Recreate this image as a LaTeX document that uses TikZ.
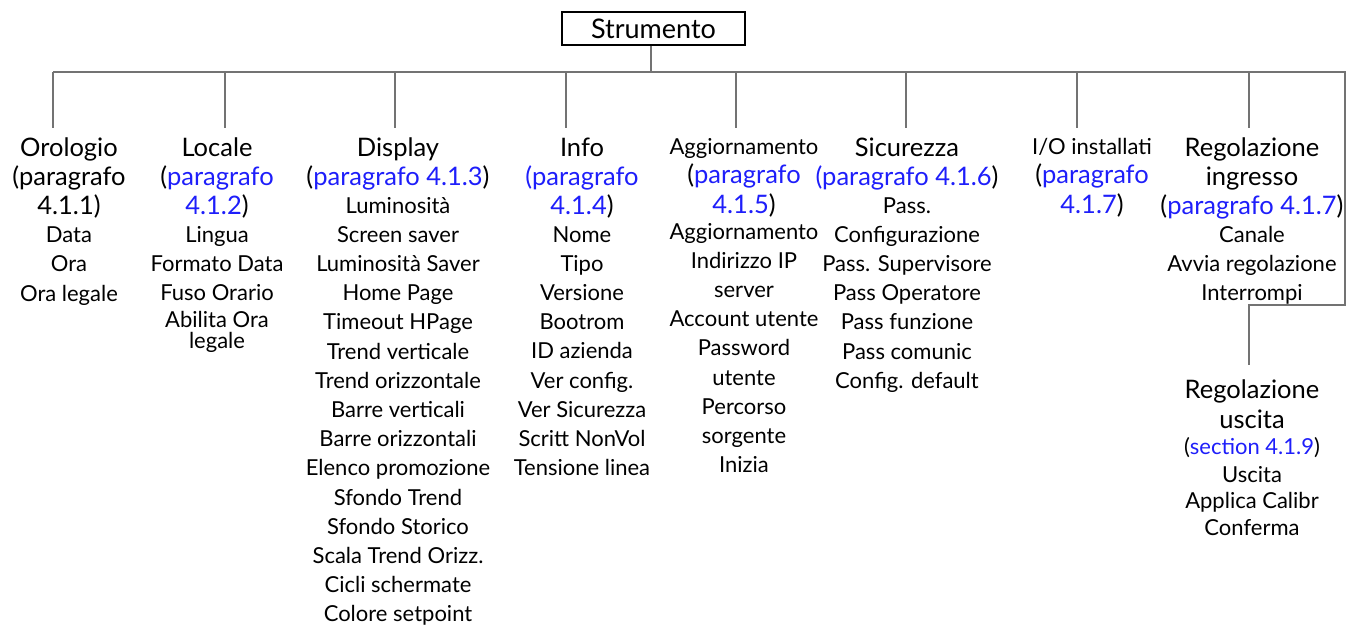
\documentclass[tikz,border=0pt]{standalone}
\usepackage{fontspec}
\setmainfont{Lato}
\usepackage{xcolor}
\usetikzlibrary{positioning}
\definecolor{rifblu}{RGB}{30,30,250}
\definecolor{ramogrigio}{RGB}{115,115,115}
\newcommand{\rif}[1]{\textcolor{rifblu}{#1}}
% nodes with several lines sit on the baseline of their last line
\tikzset{
  radice/.style={draw,line width=1.6pt,minimum width=183pt,minimum height=33pt,inner sep=0pt,font=\fontsize{27}{28}\selectfont},
  titolo/.style={align=center,anchor=base,inner sep=0pt,font=\fontsize{25.5}{29.2}\selectfont},
  titolino/.style={align=center,anchor=base,inner sep=0pt,font=\fontsize{22}{28.6}\selectfont},
  voci/.style={align=center,anchor=base,inner sep=0pt,font=\fontsize{22}{29.2}\selectfont},
  ramo/.style={draw=ramogrigio,line width=1.3pt}
}

\begin{document}
\begin{tikzpicture}[x=1pt,y=-1pt]
\useasboundingbox (0,0) rectangle (1346,624);
\node[radice] (strum) at (653.5,28.5) {Strumento};
% intestazioni
\node[titolo] (oro) at (69,214.4) {Orologio\\(paragrafo\\4.1.1)};
\node[titolo] (loc) at (217,214.4) {Locale\\(\rif{paragrafo}\\\rif{4.1.2})};
\node[titolo] (dis) at (398,185.2) {Display\\(\rif{paragrafo 4.1.3})};
\node[titolo] (inf) at (582,214.4) {Info\\\rif{(paragrafo}\\\rif{4.1.4})};
\node[titolino] (agg) at (744,154) {Aggiornamento};
\node[titolo] (aggR) at (744,213) {(\rif{paragrafo}\\\rif{4.1.5})};
\node[titolo] (sic) at (907,185.2) {Sicurezza\\\rif{(paragrafo 4.1.6})};
\node[titolino] (io) at (1092,154) {I/O installati};
\node[titolo] (ioR) at (1092,213) {(\rif{paragrafo}\\\rif{4.1.7})};
\node[titolo] (reg) at (1252,214.4) {Regolazione\\ingresso\\(\rif{paragrafo 4.1.7})};
\node[titolo] (usc) at (1252,428) {Regolazione\\uscita};
% voci
\node[voci] (oroV) at (69,301) {Data\\Ora\\Ora legale};
\node[voci] (locV) at (217,300.4) {Lingua\\Formato Data\\Fuso Orario};
\node[voci,font=\fontsize{22}{21}\selectfont] (locW) at (217,348) {Abilita Ora\\legale};
\node[voci] (disV) at (398,621.8) {Luminosità\\Screen saver\\Luminosità Saver\\Home Page\\Timeout HPage\\Trend verticale\\Trend orizzontale\\Barre verticali\\Barre orizzontali\\Elenco promozione\\Sfondo Trend\\Sfondo Storico\\Scala Trend Orizz.\\Cicli schermate\\Colore setpoint};
\node[voci] (infV) at (582,475.6) {Nome\\Tipo\\Versione\\Bootrom\\ID azienda\\Ver config.\\Ver Sicurezza\\Scritt NonVol\\Tensione linea};
\node[voci] (aggV) at (744,472.6) {Aggiornamento\\Indirizzo IP\\server\\Account utente\\Password\\utente\\Percorso\\sorgente\\Inizia};
\node[voci] (sicV) at (907,388.2) {Pass.\\Configurazione\\Pass. Supervisore\\Pass Operatore\\Pass funzione\\Pass comunic\\Config. default};
\node[voci] (regV) at (1252,300.4) {Canale\\Avvia regolazione\\Interrompi};
\node[voci] (uscS) at (1252,454) {(\rif{section 4.1.9})};
\node[voci,font=\fontsize{22}{26.5}\selectfont] (uscV) at (1252,535) {Uscita\\Applica Calibr\\Conferma};
% collegamenti
\coordinate (bus) at (651,72);
\coordinate (angolo) at (1345,305);
\coordinate (usc-t) at (1249,365);
\foreach \n/\x in {oro/53,loc/225,dis/395,inf/566,agg/736,sic/906,io/1077,reg/1249}{
  \coordinate (\n-t) at (\x,128);
  \draw[ramo] (\n-t |- bus) -- (\n-t);
}
\draw[ramo] (bus |- strum.south) -- (bus);
\draw[ramo] (oro-t |- bus) -- (bus) -| (angolo) -| (usc-t);
\end{tikzpicture}
\end{document}
